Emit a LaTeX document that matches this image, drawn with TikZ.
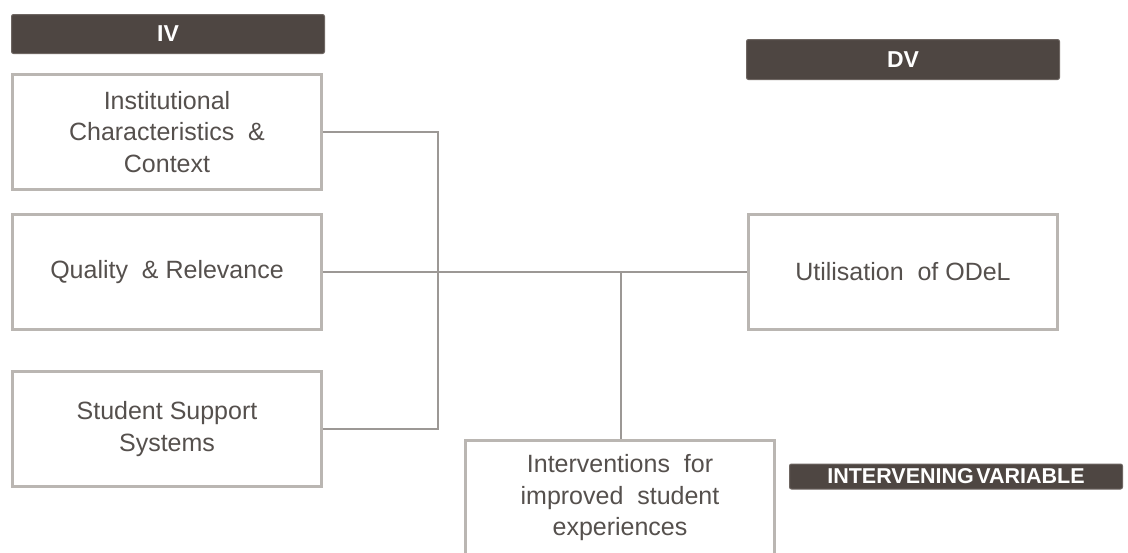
\documentclass[tikz,border=0pt]{standalone}
\usepackage{fontspec}
\setmainfont{Liberation Sans}
\usepackage{tikz}
\definecolor{barfill}{HTML}{4E4642}
\definecolor{barline}{HTML}{6E6662}
\definecolor{boxline}{HTML}{BAB6B2}
\definecolor{textgray}{HTML}{55504D}
\definecolor{wiregray}{HTML}{9C9895}
\newcommand\varbox[3]{\node[varbox] (#1) at (#2) {#3};}
\newcommand\varbar[5]{\node[varbar,minimum width=#3,minimum height=#4] (#1) at (#2) {#5};}

\begin{document}
\begin{tikzpicture}[x=1pt,y=-1pt]
\tikzstyle{varbox}=[draw=boxline,line width=3pt,fill=white,minimum width=309pt,minimum height=115pt,
  align=center,text=textgray,font=\fontsize{25}{31.5}\selectfont]
\tikzstyle{varbar}=[draw=barline,line width=1pt,fill=barfill,rounded corners=2pt,inner sep=0pt,
  text=white,font=\bfseries\fontsize{23}{26}\selectfont]
\tikzstyle{wire}=[draw=wiregray,line width=1.3pt]
\useasboundingbox (0,0) rectangle (1128,552);
% variable labels
\varbar{iv}{168,34}{313pt}{39pt}{IV}
\varbar{dv}{903,59.5}{313pt}{40pt}{DV}
\node[varbar,minimum width=333pt,minimum height=25pt,font=\bfseries\fontsize{21.5}{24}\selectfont]
  (ivar) at (956,476.5) {INTERVENING\hspace{0.12em}VARIABLE};
% boxes
\varbox{inst}{167,132}{Institutional\\Characteristics \ \&\\Context}
\varbox{qual}{167,272}{Quality \ \& Relevance}
\varbox{supp}{167,429}{Student Support\\Systems}
\varbox{util}{903,272}{Utilisation \ of ODeL}
\varbox{interv}{620,498}{Interventions \ for\\improved \ student\\experiences}
% connectors
\coordinate (join) at (438,272);
\coordinate (tap) at (621,272);
\path[wire] (inst.east) -| (join) |- (supp.east);
\path[wire] (qual.east) -- (util.west);
\path[wire] (tap) -- (tap |- interv.north);
\end{tikzpicture}
\end{document}
